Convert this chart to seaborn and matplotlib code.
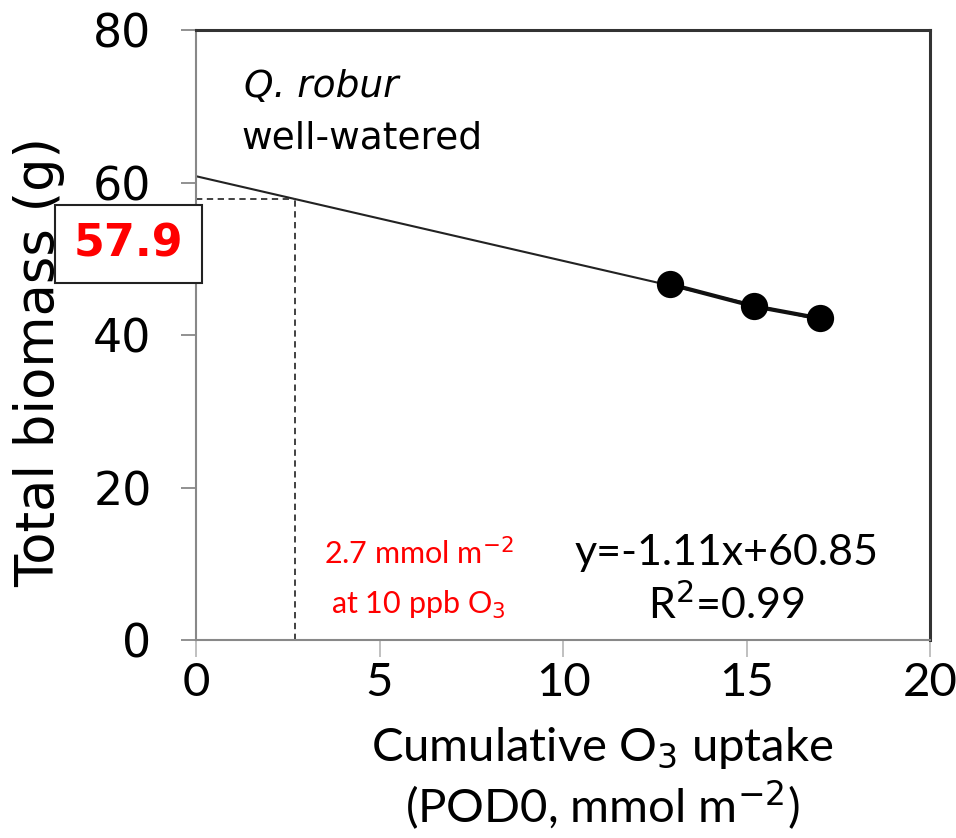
import numpy as np
import pandas as pd
import matplotlib
matplotlib.use("Agg")
import matplotlib.pyplot as plt
import seaborn as sns
from matplotlib.patches import Rectangle

# ---- data ----
pod0 = [12.9, 15.2, 17.0]
biomass = [46.7, 43.8, 42.2]
slope = -1.11
intercept = 60.85
fit_x = [0.0, 17.0]
ref_x = 2.7
ref_y = 57.9
x_ticks = [0, 5, 10, 15, 20]
y_ticks = [0, 20, 40, 60, 80]

sns.set_style("white")
plt.rcParams['font.family'] = ['DejaVu Sans']
plt.rcParams['text.color'] = 'black'
plt.rcParams['axes.labelcolor'] = 'black'
plt.rcParams['xtick.color'] = 'black'
plt.rcParams['ytick.color'] = 'black'

fig = plt.figure(figsize=(9.56, 8.38), dpi=100)
ax = fig.add_axes([0.205, 0.236, 0.768, 0.728])

fit_df = pd.DataFrame({"x": fit_x, "y": [slope * v + intercept for v in fit_x]})
sns.lineplot(data=fit_df, x="x", y="y", ax=ax, color="#222222", linewidth=1.5)
pts = pd.DataFrame({"x": pod0, "y": biomass})
sns.lineplot(data=pts, x="x", y="y", ax=ax, color="#111111", linewidth=3)
sns.scatterplot(data=pts, x="x", y="y", ax=ax, color="black", s=330, edgecolor="black", zorder=5)

# reference dashed lines
ax.plot([0, ref_x], [ref_y, ref_y], ls=(0, (3.5, 2.5)), color="#333333", lw=1.3)
ax.plot([ref_x, ref_x], [0, ref_y], ls=(0, (3.5, 2.5)), color="#333333", lw=1.3)

ax.set_xlim(0, 20)
ax.set_ylim(0, 80)
ax.set_xticks(x_ticks)
ax.set_yticks(y_ticks)
ax.set_xlabel("Cumulative O$_3$ uptake\n(POD0, mmol m$^{-2}$)", fontsize=34, family="Lato", linespacing=1.15)
ax.xaxis.set_label_coords(0.553, -0.14)
ax.xaxis.label.set_va("top")
ax.set_ylabel("Total biomass (g)", fontsize=38)
ax.yaxis.set_label_coords(-0.178, 0.456)
ax.tick_params(axis="y", which="major", direction="out", length=11, width=1.3, color="#888888", labelsize=33, pad=21, left=True)
ax.tick_params(axis="x", which="major", direction="out", length=12, width=1.3, color="#bbbbbb", labelsize=34, pad=4, bottom=True)
for lab in ax.get_xticklabels():
    lab.set_family("Lato")

for s in ["left", "bottom"]:
    ax.spines[s].set_color("#888888")
    ax.spines[s].set_linewidth(1.5)
for s in ["top", "right"]:
    ax.spines[s].set_color("#333333")
    ax.spines[s].set_linewidth(2.2)

# annotations
ax.text(1.3, 72.6, "Q. robur", fontsize=27, style="italic", va="center", ha="left")
ax.text(1.25, 65.8, "well-watered", fontsize=27, va="center", ha="left")
ax.text(14.45, 11.5, "y=-1.11x+60.85", fontsize=31, family="Lato", ha="center", va="center")
ax.text(14.45, 4.7, "R$^2$=0.99", fontsize=31, family="Lato", ha="center", va="center")
ax.text(6.07, 11.4, "2.7 mmol m$^{-2}$", fontsize=22, family="Lato", color="red", ha="center", va="center")
ax.text(6.07, 4.6, "at 10 ppb O$_3$", fontsize=22, family="Lato", color="red", ha="center", va="center")

# 57.9 label box in figure pixel coordinates
box = Rectangle((55 / 956, 1 - 283 / 838), 147 / 956, 78 / 838, transform=fig.transFigure,
                facecolor="white", edgecolor="#222222", lw=1.5, zorder=10)
fig.patches.append(box)
fig.text(128 / 956, 1 - 244 / 838, f"{ref_y}", fontsize=32, fontweight="bold", color="red",
         ha="center", va="center", zorder=11)

fig.savefig("out.png", dpi=100)
